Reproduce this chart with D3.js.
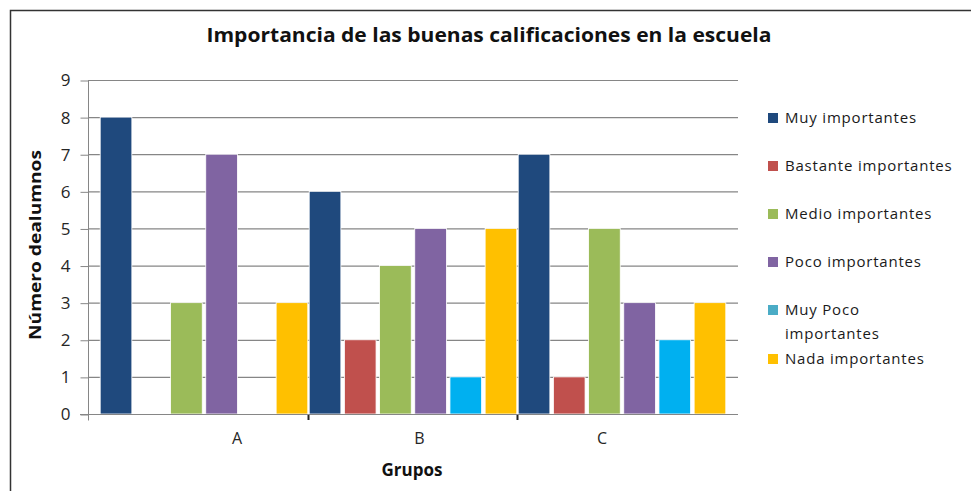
<!DOCTYPE html>
<html>
<head>
<meta charset="utf-8">
<script src="https://cdn.jsdelivr.net/npm/d3@7"></script>
<style>
  body { margin: 0; background: white; }
  text { font-family: "Open Sans", "Liberation Sans", sans-serif; }
</style>
</head>
<body>
<div id="chart"></div>
<script>
var groups = ["A", "B", "C"];
var series = ["Muy importantes", "Bastante importantes", "Medio importantes",
              "Poco importantes", "Muy Poco importantes", "Nada importantes"];
// one row per group, one value per series
var valuesA = [8, 0, 3, 7, 0, 3];
var valuesB = [6, 2, 4, 5, 1, 5];
var valuesC = [7, 1, 5, 3, 2, 3];
var yTicks = [0, 1, 2, 3, 4, 5, 6, 7, 8, 9];

var barColors = ["#1F497D", "#C0504D", "#9BBB59", "#8064A2", "#00B0F0", "#FFC000"];
var legendColors = ["#1F497D", "#C0504D", "#9BBB59", "#8064A2", "#4BACC6", "#FFC000"];

var width = 971, height = 491;
var plotLeft = 88, plotRight = 738, plotTop = 80, plotBottom = 414;

var rows = [valuesA, valuesB, valuesC].map(function(v, i) {
  return { group: groups[i], values: v };
});

var svg = d3.select("#chart").append("svg")
    .attr("width", width)
    .attr("height", height);

// outer frame, cropped on right and bottom
svg.append("rect")
    .attr("x", 10.5).attr("y", 10.5)
    .attr("width", 980).attr("height", 500)
    .attr("fill", "white")
    .style("stroke", "#333")
    .style("stroke-width", 1.5);

var y = d3.scaleLinear().domain([0, 9]).range([plotBottom, plotTop]);
var x0 = d3.scaleBand().domain(groups).range([plotLeft, plotRight]).paddingInner(0).paddingOuter(0.055);
var x1 = d3.scaleBand().domain(series).range([0, x0.bandwidth()]).paddingInner(0.1).paddingOuter(0.02);
var xLabel = d3.scalePoint().domain(groups).range([237, 602]);

// gridlines
svg.append("g").selectAll("line")
    .data(yTicks.slice(1))
    .enter().append("line")
    .attr("x1", plotLeft).attr("x2", plotRight)
    .attr("y1", d => y(d) + 0.5).attr("y2", d => y(d) + 0.5)
    .style("stroke", "#868686")
    .style("stroke-width", 1.2);

// y axis
var yAxis = svg.append("g")
    .attr("transform", "translate(" + (plotLeft + 0.5) + ",0.5)")
    .call(d3.axisLeft(y).tickValues(yTicks).tickSize(8).tickPadding(10).tickSizeOuter(0));
yAxis.select(".domain").style("stroke", "#868686").attr("d", "M0," + plotTop + "V" + (plotBottom + 6));
yAxis.selectAll(".tick line").style("stroke", "#868686");
yAxis.selectAll(".tick text")
    .style("font-size", "17px")
    .style("fill", "#262626");

// bars
var bars = svg.append("g").selectAll("g")
    .data(rows)
    .enter().append("g")
    .attr("transform", d => "translate(" + x0(d.group) + ",0)");

bars.selectAll("rect")
    .data(d => d.values.map((v, i) => ({ key: series[i], value: v, color: barColors[i] })).filter(d => d.value > 0))
    .enter().append("rect")
    .attr("x", d => x1(d.key))
    .attr("y", d => y(d.value))
    .attr("width", x1.bandwidth())
    .attr("height", d => y(0) - y(d.value))
    .attr("fill", d => d.color)
    .style("stroke", "white")
    .style("stroke-width", 0.8);

// x axis
svg.append("line")
    .attr("x1", plotLeft - 8).attr("x2", plotRight)
    .attr("y1", plotBottom + 0.5).attr("y2", plotBottom + 0.5)
    .style("stroke", "#868686")
    .style("stroke-width", 1.2);

svg.append("g").selectAll("line")
    .data(groups.slice(1))
    .enter().append("line")
    .attr("x1", d => x0(d)).attr("x2", d => x0(d))
    .attr("y1", plotBottom + 1).attr("y2", plotBottom + 6)
    .style("stroke", "#222")
    .style("stroke-width", 2);

svg.append("g").selectAll("text")
    .data(groups)
    .enter().append("text")
    .attr("x", d => xLabel(d))
    .attr("y", 444)
    .attr("text-anchor", "middle")
    .style("font-size", "16px")
    .style("fill", "#262626")
    .text(d => d);

// titles
svg.append("text")
    .attr("x", 489).attr("y", 42)
    .attr("text-anchor", "middle")
    .attr("textLength", 565)
    .attr("lengthAdjust", "spacingAndGlyphs")
    .style("font-size", "20px")
    .style("font-weight", "bold")
    .style("fill", "#111")
    .text("Importancia de las buenas calificaciones en la escuela");

svg.append("text")
    .attr("x", 412).attr("y", 476)
    .attr("text-anchor", "middle")
    .style("font-size", "17px")
    .style("font-weight", "bold")
    .style("fill", "#111")
    .text("Grupos");

svg.append("text")
    .attr("transform", "translate(41,245) rotate(-90)")
    .attr("text-anchor", "middle")
    .attr("textLength", 190)
    .attr("lengthAdjust", "spacingAndGlyphs")
    .style("font-size", "16px")
    .style("font-weight", "bold")
    .style("fill", "#111")
    .text("Número dealumnos");

// legend
var legendY = [118, 166, 214, 262, 310, 359];
var legendLines = [["Muy importantes"], ["Bastante importantes"], ["Medio importantes"],
                   ["Poco importantes"], ["Muy Poco", "importantes"], ["Nada importantes"]];

var legend = svg.append("g").selectAll("g")
    .data(series)
    .enter().append("g")
    .attr("transform", (d, i) => "translate(768," + legendY[i] + ")");

legend.append("rect")
    .attr("x", 0).attr("y", -5)
    .attr("width", 10).attr("height", 10)
    .attr("fill", (d, i) => legendColors[i]);

legend.append("text")
    .attr("x", 17)
    .attr("y", 5)
    .style("font-size", "15px")
    .style("letter-spacing", "0.8px")
    .style("fill", "#1a1a1a")
    .selectAll("tspan")
    .data((d, i) => legendLines[i])
    .enter().append("tspan")
    .attr("x", 17)
    .attr("dy", (d, i) => i === 0 ? 0 : 24)
    .text(d => d);
</script>
</body>
</html>
